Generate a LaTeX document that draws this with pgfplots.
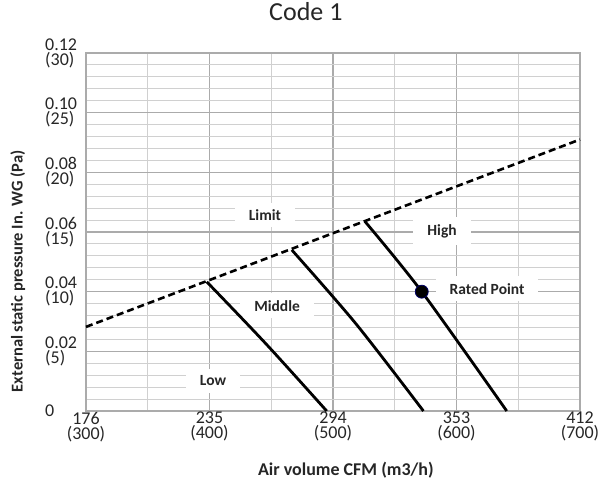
\documentclass[border=0pt]{standalone}
\usepackage{fontspec}
\setmainfont{Carlito}
\usepackage{pgfplots}
\pgfplotsset{compat=1.18}
\definecolor{txt}{HTML}{262626}
\definecolor{majg}{HTML}{ABABAB}
\definecolor{ming}{HTML}{D0D0D0}
\begin{document}
\begin{tikzpicture}
\path[use as bounding box] (-86pt,-80pt) rectangle (514pt,411pt);
\begin{axis}[
  scale only axis, width=494pt, height=358pt,
  at={(0,0)}, anchor=south west,
  xmin=176, xmax=412, ymin=0, ymax=0.12,
  xtick={176,235,294,353,412},
  xticklabels={{176\\(300)},{235\\(400)},{294\\(500)},{353\\(600)},{412\\(700)}},
  ytick={0,0.02,0.04,0.06,0.08,0.10,0.12},
  yticklabels={0,{0.02\\(5)},{0.04\\(10)},{0.06\\(15)},{0.08\\(20)},{0.10\\(25)},{0.12\\(30)}},
  minor x tick num=1, minor y tick num=4,
  grid=both,
  major grid style={majg, line width=1.2pt},
  minor grid style={ming, line width=1.1pt},
  axis line style={majg, line width=1.3pt},
  major tick length=0pt, minor tick length=0pt,
  /pgf/number format/assume math mode=true,
  xticklabel style={align=center, font=\fontsize{18}{15}\selectfont, text=txt, inner sep=1pt},
  yticklabel style={anchor=west, align=left, xshift=-41pt, font=\fontsize{18}{15}\selectfont, text=txt, inner sep=0pt},
  title={Code 1},
  title style={at={(axis description cs:0.445,1.098)}, anchor=center, font=\fontsize{26}{30}\selectfont, text=txt},
  xlabel={Air volume CFM (m3/h)},
  xlabel style={at={(axis description cs:0.526,-0.165)}, anchor=center, font=\fontsize{18}{20}\selectfont\bfseries, text=txt},
  ylabel={External static pressure In. WG (Pa)},
  ylabel style={at={(axis description cs:-0.138,0.39)}, anchor=center, font=\fontsize{16.5}{18}\selectfont\bfseries, text=txt},
  clip=false,
]
\tikzset{lbl/.style={fill=white, inner xsep=14pt, inner ysep=7pt, font=\fontsize{15.5}{17}\selectfont\bfseries, text=txt}}
\node[lbl] at (axis cs:261.5,0.0657) {Limit};
\node[lbl] at (axis cs:346.1,0.0603) {High};
\node[lbl] at (axis cs:367.6,0.0409) {Rated Point};
\node[lbl] at (axis cs:267.3,0.0352) {Middle};
\node[lbl] at (axis cs:236.7,0.0101) {Low};
% limit line
\addplot[black, line width=2.6pt, dash pattern=on 7pt off 4pt] coordinates {(176,0.0282) (412,0.0910)};
% Low
\addplot[black, line width=2.8pt, smooth] coordinates {(233.7,0.0433) (262.0,0.0225) (291.0,0)};
% Middle
\addplot[black, line width=2.8pt, smooth] coordinates {(274.3,0.0540) (305.0,0.0292) (337.2,0)};
% High
\addplot[black, line width=2.8pt, smooth] coordinates {(309.3,0.0635) (336.4,0.0400) (377.0,0)};
% Rated point
\addplot[only marks, mark=*, mark size=6.5pt, mark options={fill=black, draw=blue!40!black, line width=0.8pt}] coordinates {(336.4,0.0400)};
\end{axis}
\end{tikzpicture}
\end{document}
